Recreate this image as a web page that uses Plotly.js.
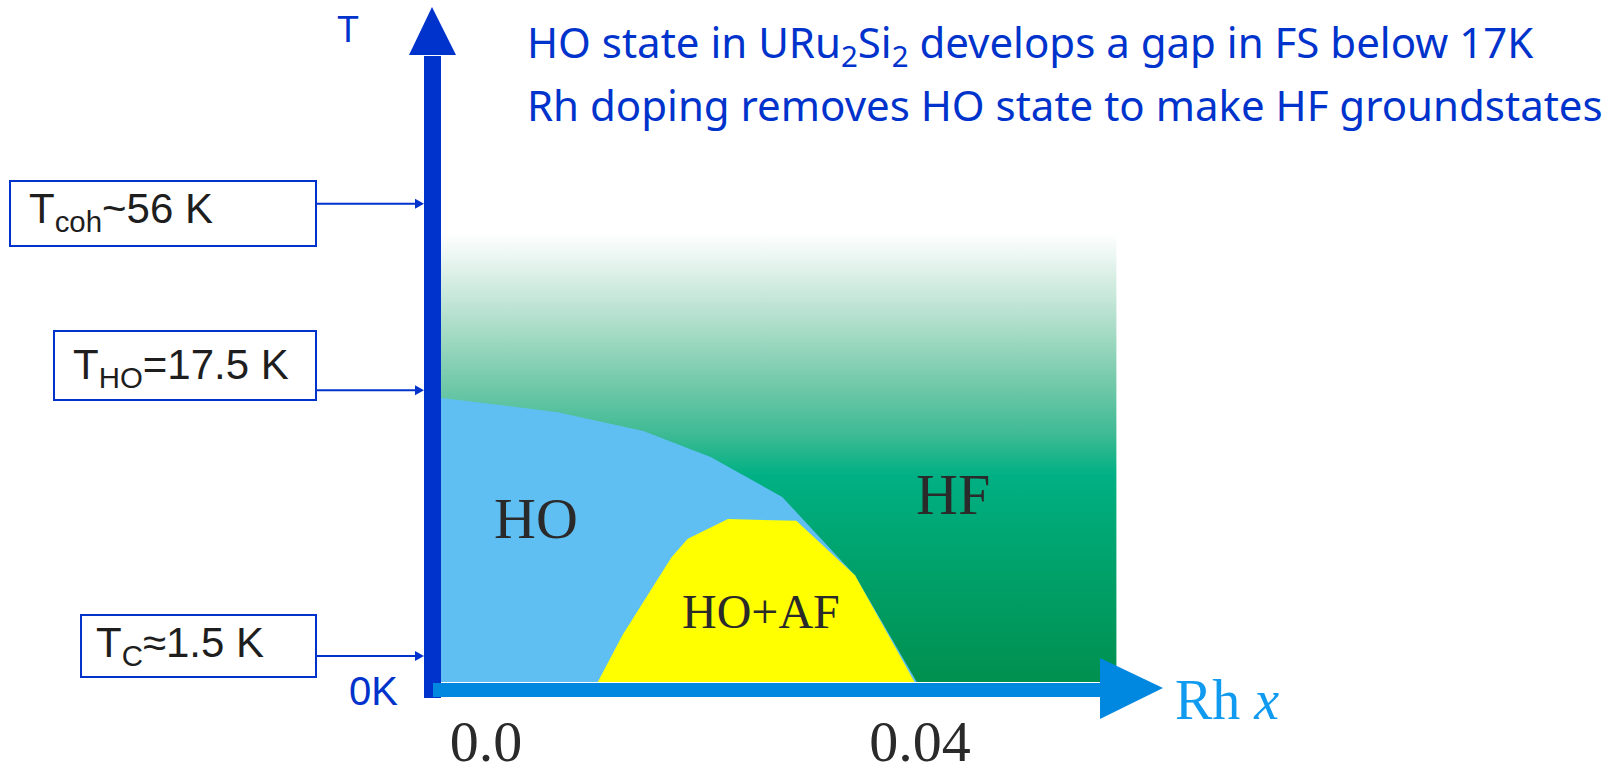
<!DOCTYPE html>
<html>
<head>
<meta charset="utf-8">
<script src="https://cdn.plot.ly/plotly-3.0.1.min.js"></script>
<style>html,body{margin:0;padding:0;background:#fff;}#chart{width:1621px;height:769px;}</style>
</head>
<body>
<div id="chart"></div>
<script>
// ---------- data (schematic phase diagram of URu2-xRhxSi2) ----------
// x = Rh concentration, y = schematic temperature (0 = 0 K, 100 = top of HF region)
const tickVals = [0, 0.04];
const tickText = ['0.0', '0.04'];

// HF (heavy-fermion) region extent
const hfX = [-0.0043, 0.0581, 0.0581, -0.0043];
const hfY = [0, 0, 100, 100];

// HO (hidden order) phase boundary
const hoX = [-0.0043, 0.0066, 0.0145, 0.0207, 0.0273, 0.0340, 0.0397, -0.0043];
const hoY = [63.3, 60.1, 55.9, 50.1, 41.2, 23.8, 0, 0];

// HO+AF region boundary
const afX = [0.0103, 0.0126, 0.0171, 0.0186, 0.0223, 0.0286, 0.0340, 0.0395];
const afY = [0, 10.5, 27.8, 31.9, 36.3, 35.9, 23.8, 0];

// characteristic temperatures (label, schematic level)
const tempLabels = ['T<sub>coh</sub>~56 K', 'T<sub>HO</sub>=17.5 K', 'T<sub>C</sub>\u22481.5 K'];
const tempLevels = [106.5, 65.0, 5.8];

const phaseLabels = ['HO', 'HF', 'HO+AF'];

// ---------- layout helpers (screen placement of decorations) ----------
const X = px => (px - 486) / 10850;
const Y = py => (682 - py) / 4.49;

const BLUE = '#0033cc';
const AXBLUE = '#0088e0';

const traces = [
  {
    x: hfX, y: hfY, type: 'scatter', mode: 'none', fill: 'toself',
    fillgradient: {
      type: 'vertical', start: 0, stop: 100,
      colorscale: [
        [0, '#00904f'], [0.35, '#00a875'], [0.46, '#00b084'], [0.55, '#3dba93'],
        [0.65, '#6cc7a7'], [0.78, '#a6dbc5'], [0.9, '#d8eee5'], [1, '#ffffff']
      ]
    },
    hoverinfo: 'skip', showlegend: false
  },
  {
    x: hoX, y: hoY, type: 'scatter', mode: 'none', fill: 'toself',
    fillcolor: '#60bff2', hoverinfo: 'skip', showlegend: false
  },
  {
    x: afX, y: afY, type: 'scatter', mode: 'none', fill: 'toself',
    fillcolor: '#ffff00', hoverinfo: 'skip', showlegend: false
  }
];

const shapes = [
  // vertical T axis
  {type: 'rect', xref: 'x', yref: 'y', x0: X(424), x1: X(441), y0: Y(698), y1: Y(56),
   fillcolor: BLUE, line: {width: 0}, layer: 'above'},
  {type: 'path', xref: 'x', yref: 'y',
   path: `M ${X(409)},${Y(55)} L ${X(456)},${Y(55)} L ${X(432)},${Y(7)} Z`,
   fillcolor: BLUE, line: {width: 0}, layer: 'above'},
  // horizontal Rh x axis
  {type: 'rect', xref: 'x', yref: 'y', x0: X(433), x1: X(1101), y0: Y(697), y1: Y(683),
   fillcolor: AXBLUE, line: {width: 0}, layer: 'above'},
  {type: 'path', xref: 'x', yref: 'y',
   path: `M ${X(1100)},${Y(658)} L ${X(1100)},${Y(719)} L ${X(1163)},${Y(688)} Z`,
   fillcolor: AXBLUE, line: {width: 0}, layer: 'above'},
  // label boxes
  {type: 'rect', xref: 'x', yref: 'y', x0: X(10), x1: X(316), y0: Y(246), y1: Y(181),
   line: {color: BLUE, width: 2}},
  {type: 'rect', xref: 'x', yref: 'y', x0: X(54), x1: X(316), y0: Y(400), y1: Y(331),
   line: {color: BLUE, width: 2}},
  {type: 'rect', xref: 'x', yref: 'y', x0: X(81), x1: X(316), y0: Y(677), y1: Y(615),
   line: {color: BLUE, width: 2}}
];

// arrows from boxes to the T axis
const headLen = X(424) - X(415);
const headHalf = 5 / 4.49;
tempLevels.forEach(lv => {
  shapes.push({type: 'line', xref: 'x', yref: 'y', x0: X(316), x1: X(418), y0: lv, y1: lv,
               line: {color: BLUE, width: 2}});
  shapes.push({type: 'path', xref: 'x', yref: 'y',
               path: `M ${X(424) - headLen},${lv + headHalf} L ${X(424)},${lv} L ${X(424) - headLen},${lv - headHalf} Z`,
               fillcolor: BLUE, line: {width: 0}});
});

const boxTextLeft = [27, 71, 94];
const boxTextMid = [211, 367, 645];

const annotations = [];
tempLabels.forEach((t, i) => {
  annotations.push({
    x: X(boxTextLeft[i]), y: Y(boxTextMid[i]), xref: 'x', yref: 'y', xanchor: 'left', yanchor: 'middle',
    text: t, showarrow: false, font: {family: 'Liberation Sans, Arial, sans-serif', size: 42, color: '#1e1e1e'}
  });
});
const phasePos = [[536, 518, 58], [953, 494, 58], [761, 611, 48]];
phaseLabels.forEach((t, i) => {
  annotations.push({
    x: X(phasePos[i][0]), y: Y(phasePos[i][1]), xref: 'x', yref: 'y', xanchor: 'center', yanchor: 'middle',
    text: t, showarrow: false, font: {family: 'Liberation Serif, Times New Roman, serif', size: phasePos[i][2], color: '#2a2a2a'}
  });
});
annotations.push(
  {x: X(348), y: Y(29), xref: 'x', yref: 'y', text: 'T', showarrow: false,
   font: {family: 'Liberation Sans, Arial, sans-serif', size: 36, color: BLUE}},
  {x: X(373), y: Y(691), xref: 'x', yref: 'y', text: '0K', showarrow: false,
   font: {family: 'Liberation Sans, Arial, sans-serif', size: 40, color: BLUE}},
  {x: X(1173), y: Y(700), xref: 'x', yref: 'y', xanchor: 'left', text: 'Rh <i>x</i>', showarrow: false,
   font: {family: 'Liberation Serif, Times New Roman, serif', size: 56, color: '#119bf0'}},
  {x: X(525), y: Y(44), xref: 'x', yref: 'y', xanchor: 'left',
   text: 'HO state in URu<sub>2</sub>Si<sub>2</sub> develops a gap in FS below 17K', showarrow: false,
   font: {family: 'Noto Sans, sans-serif', size: 42, color: BLUE}},
  {x: X(525), y: Y(104), xref: 'x', yref: 'y', xanchor: 'left',
   text: 'Rh doping removes HO state to make HF groundstates', showarrow: false,
   font: {family: 'Noto Sans, sans-serif', size: 42, color: BLUE}}
);

const layout = {
  width: 1621, height: 769, autosize: false,
  margin: {l: 0, r: 0, t: 0, b: 47},
  paper_bgcolor: '#ffffff', plot_bgcolor: '#ffffff',
  showlegend: false,
  xaxis: {
    range: [X(0), X(1621)], showgrid: false, zeroline: false, showline: false,
    tickmode: 'array', tickvals: tickVals, ticktext: tickText, ticks: '',
    tickfont: {family: 'Liberation Serif, Times New Roman, serif', size: 58, color: '#2a2a2a'},
    ticklabelstandoff: -20, fixedrange: true
  },
  yaxis: {range: [Y(722), Y(0)], visible: false, fixedrange: true},
  shapes: shapes,
  annotations: annotations
};

Plotly.newPlot('chart', traces, layout, {displayModeBar: false, staticPlot: true});
</script>
</body>
</html>
